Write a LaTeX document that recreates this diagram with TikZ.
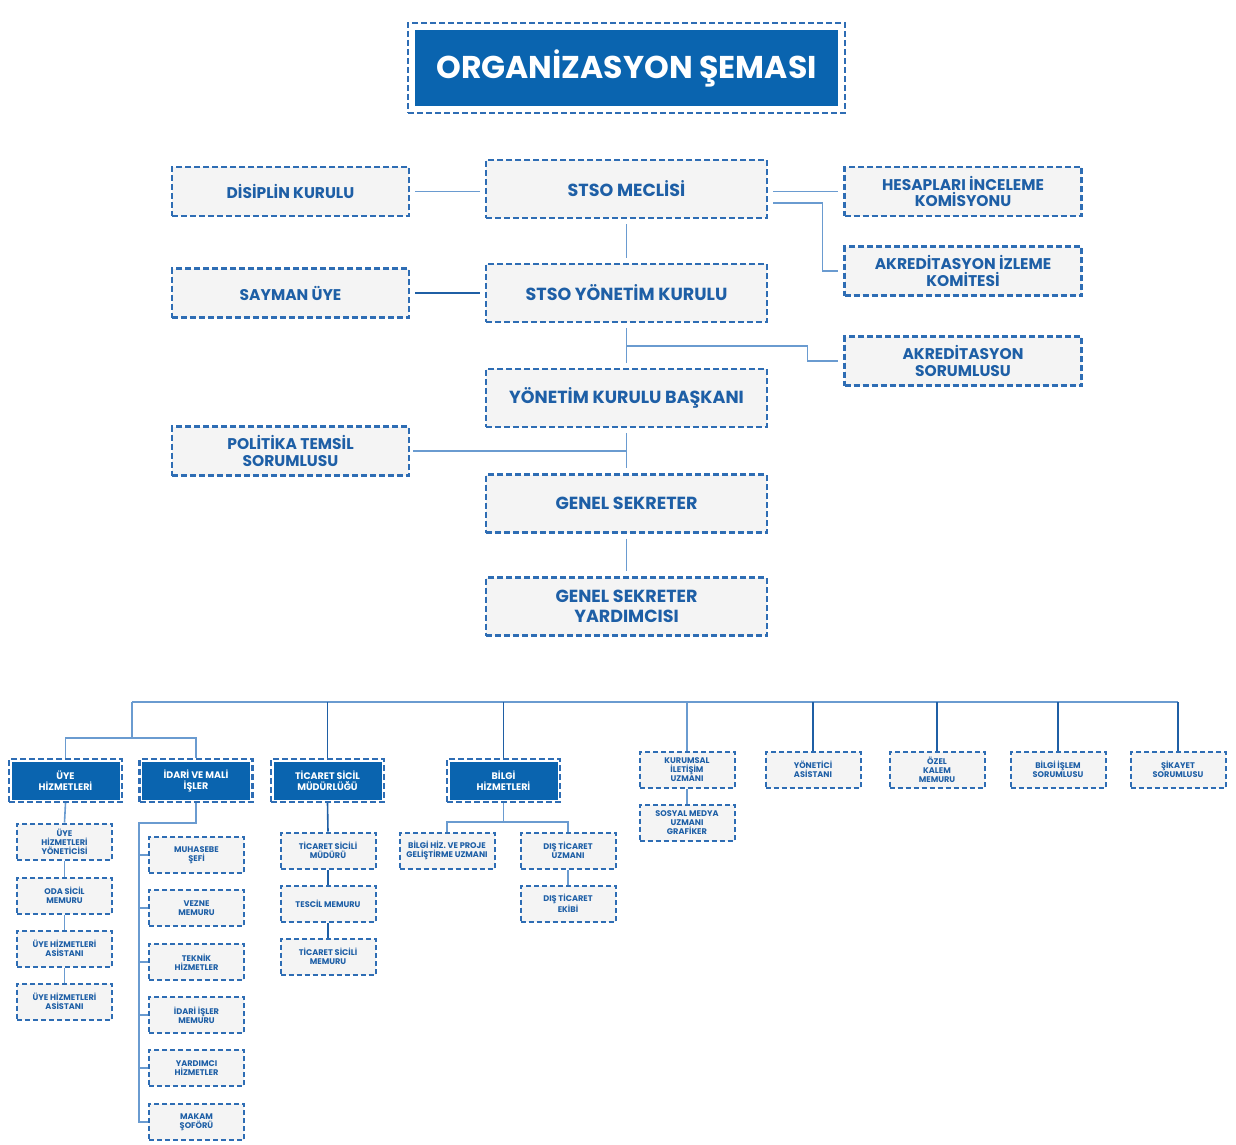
\documentclass[tikz,border=0pt]{standalone}
\usepackage{fontspec}
\setmainfont{Poppins}
\usetikzlibrary{calc}
\definecolor{headblue}{HTML}{0A64AF}
\definecolor{dashblue}{HTML}{2E6DB4}
\definecolor{txtblue}{HTML}{1E5FA6}
\definecolor{boxgray}{HTML}{F4F4F4}
\definecolor{linelight}{HTML}{6A9BD0}
\definecolor{linedark}{HTML}{1F5FA5}
\newcommand{\fsz}[2]{\fontsize{#1}{#2}\selectfont}

\begin{document}
\begin{tikzpicture}[x=1pt,y=-1pt]
            \useasboundingbox (0,0) rectangle (1236,1145);
            \tikzset{box/.style={rectangle, draw=dashblue, fill=boxgray, line width=2.2pt,
                                 dash pattern=on 6pt off 3pt, text=txtblue, font=\bfseries,
                                 align=center, inner sep=0pt},
                     headbox/.style={box, fill=white, text=white,
                                 path picture={\fill[headblue]
                                   ([shift={(#1,-#1)}]path picture bounding box.north west) rectangle
                                   ([shift={(-#1,#1)}]path picture bounding box.south east);}},
                     lite/.style={draw=linelight, line width=1.6pt},
                     dark/.style={draw=linedark, line width=1.6pt}}

            % title
            \node[headbox=7pt, minimum width=437, minimum height=90, line width=2pt,
                  dash pattern=on 6pt off 3pt, font=\bfseries\fsz{31.5}{34}] (title) at (626.5,68) {ORGANİZASYON ŞEMASI};

            \begin{scope}[every node/.style={box, font=\bfseries\fsz{17.5}{20}, minimum width=281, minimum height=58}]
                \node (meclis) at (626.5,189) {STSO MECLİSİ};
                \node (yk) at (626.5,293) {STSO YÖNETİM KURULU};
                \node (bsk) at (626.5,398) {YÖNETİM KURULU BAŞKANI};
                \node (gs) at (626.5,503.5) {GENEL SEKRETER};
                \node (gsy) at (626.5,606.5) {GENEL SEKRETER\\YARDIMCISI};
            \end{scope}

            \begin{scope}[every node/.style={box, font=\bfseries\fsz{15.5}{16.5}, minimum width=237, minimum height=49}]
                \node (disiplin) at (290.5,191.5) {DİSİPLİN KURULU};
                \node (sayman) at (290.5,293) {SAYMAN ÜYE};
                \node (politika) at (290.5,451) {POLİTİKA TEMSİL\\SORUMLUSU};
                \node (hesap) at (963,191.5) {HESAPLARI İNCELEME\\KOMİSYONU};
                \node (akrizl) at (963,271) {AKREDİTASYON İZLEME\\KOMİTESİ};
                \node (akrsor) at (963,361) {AKREDİTASYON\\SORUMLUSU};
            \end{scope}

            \begin{scope}[shorten >=5pt, shorten <=5pt]
                \draw[lite] (disiplin.east) -- (disiplin.east -| meclis.west);
                \draw[dark] (sayman.east) -- (yk.west);
                \draw[lite] (hesap.west -| meclis.east) -- (hesap.west);
                \draw[lite] (meclis.south) -- (yk.north);
                \draw[lite] (yk.south) -- (bsk.north);
                \draw[lite] (bsk.south) -- (gs.north);
                \draw[lite] (gs.south) -- (gsy.north);
            \end{scope}
            \draw[lite] ([shift={(5pt,-14pt)}]meclis.east) -| ([xshift=-21pt]akrizl.west) -- ([xshift=-5pt]akrizl.west);
            \coordinate (j1) at (626.5,346);
            \draw[lite] (j1) -| ([xshift=-36pt]akrsor.west) -- ([xshift=-5pt]akrsor.west);
            \draw[lite] ([xshift=3pt]politika.east) -- (politika.east -| bsk.south);

            % bottom departments
            \begin{scope}[every node/.style={headbox=2.5pt, font=\bfseries\fsz{9.5}{11}, minimum width=113, minimum height=43}]
                \node (uye) at (65.5,780.5) {ÜYE\\HİZMETLERİ};
                \node (idari) at (196,780.5) {İDARİ VE MALİ\\İŞLER};
                \node (ticaret) at (327.5,780.5) {TİCARET SİCİL\\MÜDÜRLÜĞÜ};
                \node (bilgi) at (503.5,780.5) {BİLGİ\\HİZMETLERİ};
            \end{scope}

            \begin{scope}[every node/.style={box, font=\bfseries\fsz{8.2}{9}, minimum width=95, minimum height=36,
                                             line width=2pt, dash pattern=on 5pt off 3pt}]
                \node (kurumsal) at (687,769.5) {KURUMSAL\\İLETİŞİM\\UZMANI};
                \node (yonasis) at (813,769.5) {YÖNETİCİ\\ASİSTANI};
                \node (ozel) at (937,769.5) {ÖZEL\\KALEM\\MEMURU};
                \node (bilgiis) at (1058,769.5) {BİLGİ İŞLEM\\SORUMLUSU};
                \node (sikayet) at (1178,769.5) {ŞİKAYET\\SORUMLUSU};
                \node (sosyal) at (687,822.5) {SOSYAL MEDYA\\UZMANI\\GRAFİKER};

                \node (uye1) at (64.5,841.5) {ÜYE\\HİZMETLERİ\\YÖNETİCİSİ};
                \node (uye2) at (64.5,895.5) {ODA SİCİL\\MEMURU};
                \node (uye3) at (64.5,948.5) {ÜYE HİZMETLERİ\\ASİSTANI};
                \node (uye4) at (64.5,1001.5) {ÜYE HİZMETLERİ\\ASİSTANI};

                \node (idr1) at (196.5,855) {MUHASEBE\\ŞEFİ};
                \node (idr2) at (196.5,908) {VEZNE\\MEMURU};
                \node (idr3) at (196.5,962) {TEKNİK\\HİZMETLER};
                \node (idr4) at (196.5,1015) {İDARİ İŞLER\\MEMURU};
                \node (idr5) at (196.5,1068) {YARDIMCI\\HİZMETLER};
                \node (idr6) at (196.5,1122) {MAKAM\\ŞOFÖRÜ};

                \node (tic1) at (328,850.5) {TİCARET SİCİLİ\\MÜDÜRÜ};
                \node (tic2) at (328,903.5) {TESCİL MEMURU};
                \node (tic3) at (328,956.5) {TİCARET SİCİLİ\\MEMURU};

                \node (bil1) at (447,850.5) {BİLGİ HİZ. VE PROJE\\GELİŞTİRME UZMANI};
                \node (dis1) at (568,850.5) {DIŞ TİCARET\\UZMANI};
                \node (dis2) at (568,903.5) {DIŞ TİCARET\\EKİBİ};
            \end{scope}

            % bus
            \coordinate (bus) at (132,702);
            \coordinate (sub) at (132,738);
            \draw[lite] (bus) -- (sikayet.north |- bus);
            \draw[lite] (bus) -- (sub);
            \draw[lite] (uye.north) |- (sub) -| (idari.north);
            \foreach \n in {ticaret,bilgi,yonasis,ozel,bilgiis,sikayet}
                \draw[dark] (\n.north |- bus) -- (\n.north);
            \draw[lite] (kurumsal.north |- bus) -- (kurumsal.north);
            \draw[lite] (kurumsal.south) -- (sosyal.north);

            \draw[lite] (uye.south) -- (uye1.north);
            \foreach \a/\b in {1/2,2/3,3/4}
                \draw[lite] (uye\a.south) -- (uye\b.north);

            \coordinate (ib) at (139,823);
            \draw[lite] (idari.south) |- (ib) -- (ib |- idr6.west) -- (idr6.west);
            \foreach \i in {1,...,5}
                \draw[lite] (ib |- idr\i.west) -- (idr\i.west);

            \draw[dark] (ticaret.south) -- (tic1.north);
            \draw[dark] (tic1.south) -- (tic2.north);
            \draw[dark] (tic2.south) -- (tic3.north);

            \coordinate (bj) at (503.5,822);
            \draw[lite] (bilgi.south) -- (bj);
            \draw[lite] (bil1.north) |- (bj) -| (dis1.north);
            \draw[lite] (dis1.south) -- (dis2.north);

\end{tikzpicture}
\end{document}
